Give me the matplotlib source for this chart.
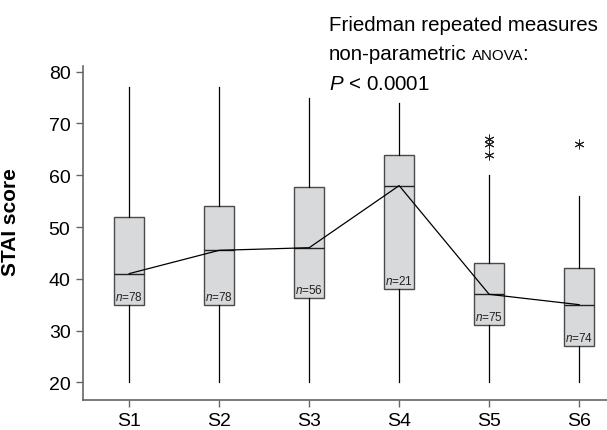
import matplotlib
matplotlib.use("Agg")
import matplotlib.pyplot as plt

plt.rcParams["font.family"] = ["Liberation Sans", "DejaVu Sans"]
plt.rcParams["mathtext.fontset"] = "custom"
plt.rcParams["mathtext.rm"] = "Liberation Sans"
plt.rcParams["mathtext.it"] = "Liberation Sans:italic"
plt.rcParams["mathtext.bf"] = "Liberation Sans:bold"

# box summaries (STAI score)
sessions = ["S1", "S2", "S3", "S4", "S5", "S6"]
whisk_hi = [77, 77, 75, 74, 60, 56]
q3 = [52, 54, 57.75, 64, 43, 42]
medians = [41, 45.5, 46, 58, 37, 35]
q1 = [35, 35, 36.25, 38, 31, 27]
whisk_lo = [20, 20, 20, 20, 20, 20]
outliers = [[], [], [], [], [67, 66, 64], [66]]
n_counts = [78, 78, 56, 21, 75, 74]

GREY = "#666666"

fig = plt.figure(figsize=(6.07, 4.31), dpi=100)
ax = fig.add_axes([0.1367, 0.0703, 0.8633, 0.7749])

stats = []
for i, name in enumerate(sessions):
    stats.append(dict(label=name, med=medians[i], q1=q1[i], q3=q3[i],
                      whislo=whisk_lo[i], whishi=whisk_hi[i],
                      fliers=outliers[i]))

positions = list(range(1, len(sessions) + 1))
ax.bxp(stats, positions=positions, widths=0.33, patch_artist=True,
       showcaps=False,
       boxprops=dict(facecolor="#d8d9db", edgecolor="#4a4a4a", lw=1.0),
       medianprops=dict(color="#222222", lw=1.0),
       whiskerprops=dict(color="black", lw=0.9),
       flierprops=dict(marker=(6, 2, 0), markersize=7, markeredgewidth=0.7,
                       markeredgecolor="#222222", markerfacecolor="none"))

# line joining the medians
ax.plot(positions, medians, color="black", lw=0.9, zorder=5)

for x, lo, n in zip(positions, q1, n_counts):
    ax.annotate(f"$n$={n}", xy=(x, lo), xytext=(0, 1.5),
                textcoords="offset points", ha="center", va="bottom",
                fontsize=8.5, color="#222222")

ax.set_xlim(0.486, 6.31)
ax.set_ylim(16.64, 81.16)
ax.set_yticks([20, 30, 40, 50, 60, 70, 80])
ax.set_xticks(positions)
ax.set_xticklabels(sessions)

for side in ["top", "right"]:
    ax.spines[side].set_visible(False)
for side in ["left", "bottom"]:
    ax.spines[side].set_color(GREY)
    ax.spines[side].set_linewidth(1.2)
ax.tick_params(colors=GREY, labelcolor="black", labelsize=14,
               length=5, width=1.0, pad=4)

ax.set_ylabel("STAI score", fontsize=15, fontweight="bold")
ax.yaxis.set_label_coords(-0.12, 0.535)

# test annotation in the top right corner
W, H = 607, 431
x0 = 329 / W
fig.text(x0, (H - 31) / H, "Friedman repeated measures", fontsize=14.8,
         va="baseline")
t2 = fig.text(x0, (H - 60) / H, "non-parametric", fontsize=14.8,
              va="baseline")
fig.text(x0, (H - 90.5) / H, "$P$ < 0.0001", fontsize=14.8, va="baseline")

fig.canvas.draw()
bb = t2.get_window_extent()
t3 = fig.text((bb.x1 + 5) / W, (H - 60) / H, "ANOVA", fontsize=10.8,
              va="baseline")
fig.canvas.draw()
bb3 = t3.get_window_extent()
fig.text((bb3.x1 - 1.5) / W, (H - 60) / H, ":", fontsize=14.8, va="baseline")

fig.savefig("out.png", dpi=100)
